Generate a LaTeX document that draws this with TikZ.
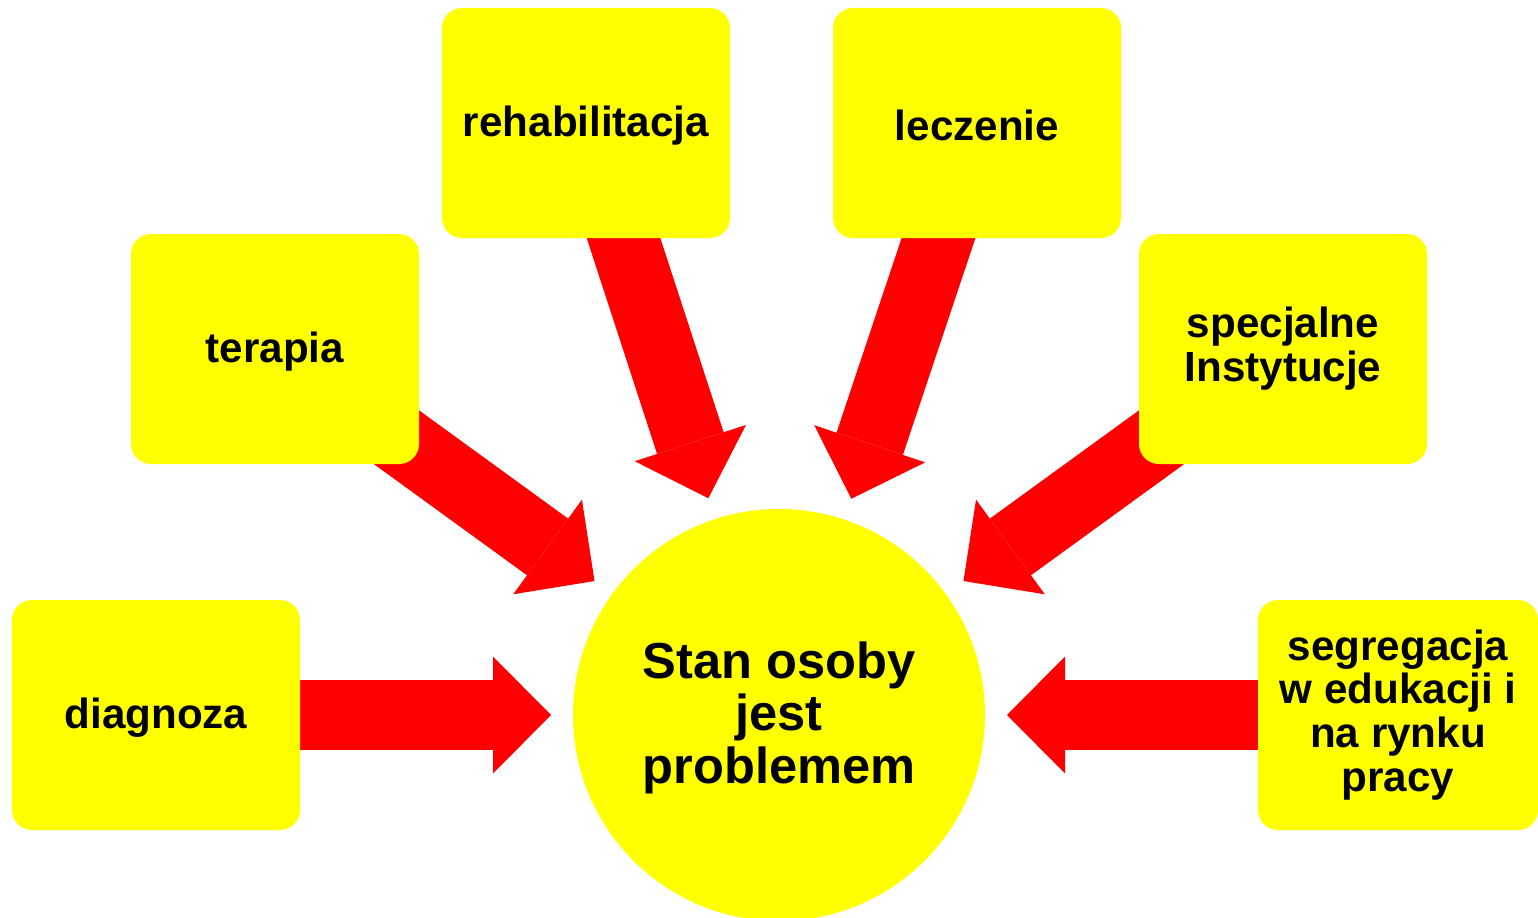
\documentclass[tikz,border=0pt]{standalone}
\usepackage{fontspec}
\setmainfont{Liberation Sans}
\usepackage{tikz}
\usetikzlibrary{arrows.meta}
\definecolor{gelb}{RGB}{255,255,0}
\definecolor{rot}{RGB}{255,0,0}
\pgfdeclarelayer{bg}
\pgfsetlayers{bg,main}
\tikzset{box/.style={fill=gelb, rounded corners=0.2cm, minimum width=2.88cm, minimum height=2.3cm, inner sep=0pt, align=center, font=\bfseries\fontsize{12}{12.5}\selectfont, execute at begin node={\rule{0pt}{0.35cm}}}}
\tikzset{pil/.style={rot, line width=0.7cm, -{Triangle[length=0.58cm, width=1.17cm, line width=0pt]}}}

\begin{document}
\begin{tikzpicture}
            \useasboundingbox (0,0) rectangle (15.38,-9.18);
            \node[circle, fill=gelb, minimum size=4.12cm, inner sep=0pt, outer sep=0.22cm, align=center, font=\bfseries\fontsize{14.4}{14.9}\selectfont] (stan) at (7.79,-7.15) {\rule{0pt}{0.42cm}Stan osoby\\jest\\problemem};
            \node[box] (diag) at (1.56,-7.15) {diagnoza};
            \node[box] (ter) at (2.75,-3.49) {terapia};
            \node[box] (reh) at (5.86,-1.23) {rehabilitacja};
            \node[box] (lecz) at (9.77,-1.23) {leczenie};
            \node[box] (spec) at (12.83,-3.49) {specjalne\\Instytucje};
            \node[box, minimum width=2.8cm] (segr) at (13.98,-7.15) {segregacja\\w edukacji i\\na rynku\\pracy};
            \begin{pgfonlayer}{bg}
            \draw[pil] (diag.center) to (stan);
            \draw[pil] (ter.center) to (stan);
            \draw[pil] (reh.center) to (stan);
            \draw[pil] (lecz.center) to (stan);
            \draw[pil] (spec.center) to (stan);
            \draw[pil] (segr.center) to (stan);
            \end{pgfonlayer}
        \end{tikzpicture}
\end{document}
